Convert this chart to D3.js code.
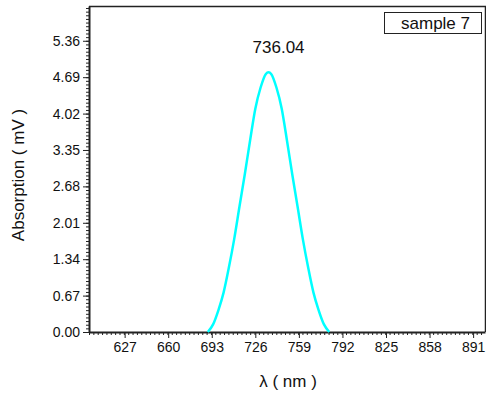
<!DOCTYPE html>
<html>
<head>
<meta charset="utf-8">
<script src="https://d3js.org/d3.v7.min.js"></script>
<style>
	body { margin: 0; background: #fff; }
	text { font-family: "Liberation Sans", Arial, sans-serif; fill: #111; }
	.axis path, .axis line { stroke: #222; }
</style>
</head>
<body>
<div id="container"></div>
<script>
// spectrum
var wavelength = [690, 694, 698, 702, 706, 710, 714, 718, 722, 726, 730, 734, 736,
                  738, 742, 746, 750, 754, 758, 762, 766, 770, 774, 778, 782];
var absorption = [0.00, 0.14, 0.40, 0.73, 1.19, 1.71, 2.31, 2.90, 3.52, 4.11, 4.50, 4.75, 4.78,
                  4.75, 4.50, 4.11, 3.52, 2.90, 2.31, 1.71, 1.19, 0.73, 0.40, 0.14, 0.00];
var xTicks = [627, 660, 693, 726, 759, 792, 825, 858, 891];
var yTicks = [0.00, 0.67, 1.34, 2.01, 2.68, 3.35, 4.02, 4.69, 5.36];
var peakLabel = 736.04;
var seriesName = "sample 7";

var W = 486, H = 394;
var pl = 89, pt = 6, pr = 485, pb = 332;   // plot box edges

var svg = d3.select("#container").append("svg")
	.attr("width", W).attr("height", H);

var x = d3.scaleLinear().domain([600, 900]).range([pl, pr]);
var y = d3.scaleLinear().domain([0, 6]).range([pb, pt]);

// minor ticks
var xMinor = d3.range(0, 92).map(function(i){ return 600 + i * 3.3; }).filter(function(v){ return v <= 900; });
var yMinor = d3.range(0, 90).map(function(i){ return i * 0.067; }).filter(function(v){ return v <= 6; });

svg.append("g").attr("class", "axis")
	.attr("transform", "translate(0," + pb + ")")
	.call(d3.axisBottom(x).tickValues(xMinor).tickSize(3).tickFormat(""))
	.call(function(g){ g.select(".domain").remove(); g.selectAll("line").attr("stroke-width", 1); });

svg.append("g").attr("class", "axis")
	.attr("transform", "translate(" + pl + ",0)")
	.call(d3.axisLeft(y).tickValues(yMinor).tickSize(3).tickFormat(""))
	.call(function(g){ g.select(".domain").remove(); g.selectAll("line").attr("stroke-width", 1); });

var xAxis = svg.append("g").attr("class", "axis")
	.attr("transform", "translate(0," + pb + ")")
	.call(d3.axisBottom(x).tickValues(xTicks).tickSize(6).tickSizeOuter(0).tickPadding(4).tickFormat(d3.format("d")));
xAxis.selectAll("text").style("font-size", "14px").attr("fill", "#111");
xAxis.select(".domain").attr("stroke-width", 2);

var yAxis = svg.append("g").attr("class", "axis")
	.attr("transform", "translate(" + pl + ",0)")
	.call(d3.axisLeft(y).tickValues(yTicks).tickSize(6).tickSizeOuter(0).tickPadding(3).tickFormat(d3.format(".2f")));
yAxis.selectAll("text").style("font-size", "14px").attr("fill", "#111");
yAxis.select(".domain").attr("stroke-width", 2);

// frame top / right
svg.append("path")
	.attr("d", "M" + pl + "," + (pt + 0.5) + "H" + (pr + 0.5) + "V" + pb)
	.attr("fill", "none").attr("stroke", "#222").attr("stroke-width", 1.5);

// curve
var pts = wavelength.map(function(w, i){ return [w, absorption[i]]; });
svg.append("path")
	.datum(pts)
	.attr("fill", "none")
	.attr("stroke", "#00ffff")
	.attr("stroke-width", 2.5)
	.attr("d", d3.line()
		.x(function(d){ return x(d[0]); })
		.y(function(d){ return y(d[1]); })
		.curve(d3.curveMonotoneX));

// peak label
svg.append("text")
	.attr("x", x(peakLabel) + 10).attr("y", 53)
	.attr("text-anchor", "middle")
	.style("font-size", "17px")
	.text(peakLabel.toFixed(2));

// legend box
svg.append("rect")
	.attr("x", 384.5).attr("y", 12.5).attr("width", 97).attr("height", 21)
	.attr("fill", "#fff").attr("stroke", "#222").attr("stroke-width", 1);
svg.append("text")
	.attr("x", 470).attr("y", 29)
	.attr("text-anchor", "end")
	.style("font-size", "17px")
	.text(seriesName);

// axis titles
svg.append("text")
	.attr("x", 288).attr("y", 387)
	.attr("text-anchor", "middle")
	.style("font-size", "17px")
	.text("λ ( nm )");

svg.append("text")
	.attr("transform", "translate(24,175) rotate(-90)")
	.attr("text-anchor", "middle")
	.style("font-size", "17px")
	.text("Absorption ( mV )");
</script>
</body>
</html>
